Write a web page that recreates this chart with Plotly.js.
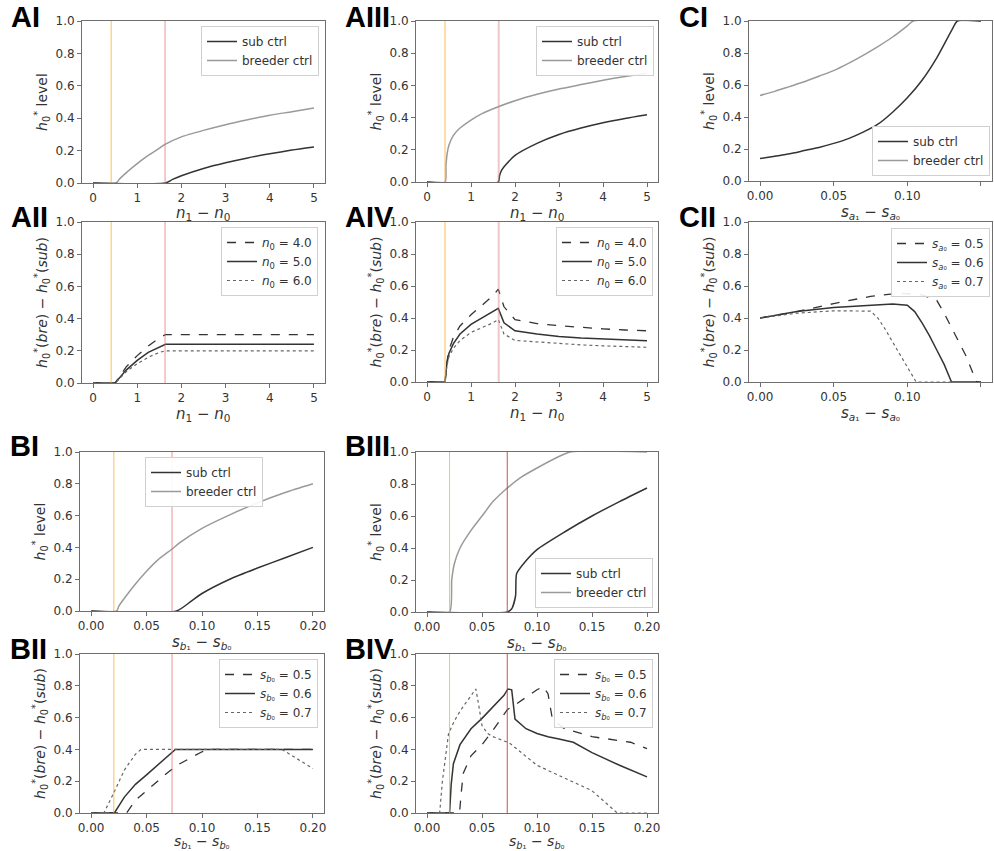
<!DOCTYPE html>
<html>
<head>
<meta charset="utf-8">
<script src="https://cdn.plot.ly/plotly-3.0.1.min.js"></script>
<style>html,body{margin:0;padding:0;background:#fff;}#chart{width:994px;height:851px;}</style>
</head>
<body>
<div id="chart"></div>
<script>
// ---------------- DATA ----------------
// thresholds (vertical reference lines)
const aThresh = [0.41, 1.63];
const bThresh = [0.0205, 0.073];

// AI
const AI_sub_x = [0, 1.64, 1.8, 2.0, 2.5, 3.0, 3.5, 4.0, 4.5, 5.0];
const AI_sub_y = [0, 0, 0.022, 0.045, 0.09, 0.125, 0.155, 0.18, 0.203, 0.222];
const AI_bre_x = [0, 0.52, 0.6, 0.8, 1.0, 1.25, 1.5, 1.64, 2.0, 2.5, 3.0, 3.5, 4.0, 4.5, 5.0];
const AI_bre_y = [0, 0, 0.025, 0.075, 0.12, 0.17, 0.215, 0.24, 0.285, 0.325, 0.36, 0.39, 0.418, 0.44, 0.463];

// AII
const AII_x = [0, 0.5, 0.75, 1.0, 1.25, 1.5, 1.64, 5.0];
const AII_n4 = [0, 0, 0.1, 0.17, 0.23, 0.28, 0.30, 0.30];
const AII_n5 = [0, 0, 0.08, 0.14, 0.19, 0.225, 0.24, 0.24];
const AII_n6 = [0, 0, 0.07, 0.12, 0.16, 0.19, 0.20, 0.20];

// AIII
const AIII_sub_x = [0, 1.62, 1.65, 1.7, 1.8, 2.0, 2.5, 3.0, 3.5, 4.0, 4.5, 5.0];
const AIII_sub_y = [0, 0, 0.04, 0.075, 0.11, 0.165, 0.24, 0.295, 0.335, 0.368, 0.395, 0.418];
const AIII_bre_x = [0, 0.41, 0.43, 0.46, 0.5, 0.6, 0.75, 1.0, 1.25, 1.62, 2.0, 2.5, 3.0, 3.5, 4.0, 4.5, 5.0];
const AIII_bre_y = [0, 0, 0.1, 0.18, 0.23, 0.29, 0.335, 0.385, 0.425, 0.467, 0.505, 0.545, 0.578, 0.605, 0.632, 0.655, 0.675];

// AIV
const AIV_x = [0, 0.41, 0.45, 0.5, 0.6, 0.75, 1.0, 1.25, 1.5, 1.62, 1.75, 2.0, 2.5, 3.0, 3.5, 4.0, 4.5, 5.0];
const AIV_n4 = [0, 0, 0.12, 0.2, 0.28, 0.35, 0.42, 0.48, 0.54, 0.58, 0.47, 0.39, 0.365, 0.352, 0.34, 0.332, 0.325, 0.32];
const AIV_n5 = [0, 0, 0.11, 0.18, 0.24, 0.30, 0.36, 0.40, 0.44, 0.46, 0.37, 0.32, 0.30, 0.285, 0.275, 0.268, 0.262, 0.258];
const AIV_n6 = [0, 0, 0.1, 0.16, 0.21, 0.26, 0.31, 0.34, 0.37, 0.39, 0.30, 0.26, 0.25, 0.24, 0.232, 0.226, 0.22, 0.217];

// CI
const CI_sub_x = [0, 0.01, 0.02, 0.03, 0.04, 0.05, 0.06, 0.07, 0.08, 0.09, 0.1, 0.11, 0.12, 0.13, 0.134, 0.15];
const CI_sub_y = [0.14, 0.155, 0.17, 0.19, 0.21, 0.235, 0.265, 0.305, 0.355, 0.43, 0.52, 0.63, 0.77, 0.94, 1.0, 1.0];
const CI_bre_x = [0, 0.01, 0.02, 0.03, 0.04, 0.05, 0.06, 0.07, 0.08, 0.09, 0.1, 0.104, 0.15];
const CI_bre_y = [0.535, 0.56, 0.59, 0.62, 0.655, 0.69, 0.735, 0.785, 0.84, 0.9, 0.97, 1.0, 1.0];

// CII
const CII_a5_x = [0, 0.025, 0.05, 0.075, 0.095, 0.11, 0.12, 0.125, 0.13, 0.135, 0.14, 0.147, 0.15];
const CII_a5_y = [0.40, 0.44, 0.49, 0.535, 0.555, 0.545, 0.51, 0.43, 0.34, 0.25, 0.16, 0.0, 0.0];
const CII_a6_x = [0, 0.025, 0.05, 0.075, 0.09, 0.1, 0.105, 0.11, 0.115, 0.12, 0.125, 0.13, 0.15];
const CII_a6_y = [0.40, 0.44, 0.465, 0.48, 0.487, 0.48, 0.44, 0.37, 0.29, 0.2, 0.11, 0.0, 0.0];
const CII_a7_x = [0, 0.025, 0.05, 0.075, 0.08, 0.085, 0.09, 0.095, 0.1, 0.106, 0.15];
const CII_a7_y = [0.40, 0.43, 0.445, 0.443, 0.40, 0.33, 0.25, 0.17, 0.09, 0.0, 0.0];

// BI
const BI_sub_x = [0, 0.077, 0.09, 0.1, 0.125, 0.15, 0.175, 0.2];
const BI_sub_y = [0, 0, 0.06, 0.11, 0.2, 0.27, 0.335, 0.40];
const BI_bre_x = [0, 0.023, 0.025, 0.03, 0.04, 0.05, 0.06, 0.073, 0.08, 0.1, 0.125, 0.15, 0.175, 0.2];
const BI_bre_y = [0, 0, 0.03, 0.08, 0.17, 0.25, 0.32, 0.39, 0.43, 0.52, 0.605, 0.68, 0.745, 0.80];

// BII
const BII_b5_x = [0, 0.032, 0.04, 0.05, 0.06, 0.07, 0.08, 0.09, 0.1, 0.107, 0.2];
const BII_b5_y = [0, 0, 0.08, 0.14, 0.2, 0.26, 0.31, 0.35, 0.385, 0.40, 0.40];
const BII_b6_x = [0, 0.021, 0.03, 0.04, 0.05, 0.06, 0.07, 0.076, 0.2];
const BII_b6_y = [0, 0, 0.1, 0.18, 0.24, 0.3, 0.36, 0.40, 0.40];
const BII_b7_x = [0, 0.0115, 0.02, 0.03, 0.04, 0.045, 0.172, 0.2];
const BII_b7_y = [0, 0, 0.12, 0.27, 0.37, 0.40, 0.40, 0.28];

// BIII
const BIII_sub_x = [0, 0.073, 0.077, 0.0805, 0.0815, 0.09, 0.1, 0.125, 0.15, 0.175, 0.2];
const BIII_sub_y = [0, 0, 0.02, 0.1, 0.24, 0.32, 0.39, 0.5, 0.6, 0.69, 0.775];
const BIII_bre_x = [0, 0.0205, 0.0225, 0.0248, 0.03, 0.04, 0.05, 0.06, 0.073, 0.085, 0.1, 0.115, 0.13, 0.2];
const BIII_bre_y = [0, 0, 0.2, 0.3, 0.4, 0.51, 0.6, 0.69, 0.775, 0.84, 0.9, 0.955, 1.0, 1.0];

// BIV
const BIV_b5_x = [0, 0.0296, 0.031, 0.033, 0.04, 0.05, 0.06, 0.073, 0.08, 0.09, 0.1, 0.1057, 0.11, 0.114, 0.125, 0.15, 0.175, 0.185, 0.2];
const BIV_b5_y = [0, 0, 0.12, 0.25, 0.36, 0.43, 0.52, 0.65, 0.68, 0.73, 0.775, 0.795, 0.75, 0.59, 0.53, 0.48, 0.455, 0.445, 0.405];
const BIV_b6_x = [0, 0.0205, 0.022, 0.024, 0.03, 0.04, 0.05, 0.06, 0.07, 0.0735, 0.077, 0.08, 0.09, 0.1, 0.11, 0.12, 0.133, 0.15, 0.175, 0.2];
const BIV_b6_y = [0, 0, 0.18, 0.31, 0.43, 0.53, 0.595, 0.67, 0.74, 0.78, 0.775, 0.59, 0.53, 0.5, 0.48, 0.465, 0.445, 0.38, 0.3, 0.227];
const BIV_b7_x = [0, 0.0115, 0.014, 0.017, 0.0196, 0.025, 0.03, 0.035, 0.04, 0.0444, 0.047, 0.05, 0.055, 0.06, 0.075, 0.1, 0.125, 0.15, 0.173, 0.2];
const BIV_b7_y = [0, 0, 0.2, 0.38, 0.5, 0.58, 0.64, 0.69, 0.74, 0.78, 0.68, 0.55, 0.5, 0.48, 0.44, 0.3, 0.22, 0.14, 0.0, 0.0];

// labels
const ctrlNames = ["sub ctrl", "breeder ctrl"];
const nLabels = ["<i>n</i><sub>0</sub> = 4.0", "<i>n</i><sub>0</sub> = 5.0", "<i>n</i><sub>0</sub> = 6.0"];
const saLabels = ["<i>s</i><sub><i>a</i>₀</sub> = 0.5", "<i>s</i><sub><i>a</i>₀</sub> = 0.6", "<i>s</i><sub><i>a</i>₀</sub> = 0.7"];
const sbLabels = ["<i>s</i><sub><i>b</i>₀</sub> = 0.5", "<i>s</i><sub><i>b</i>₀</sub> = 0.6", "<i>s</i><sub><i>b</i>₀</sub> = 0.7"];
const panelLabels = ["AI", "AII", "AIII", "AIV", "CI", "CII", "BI", "BII", "BIII", "BIV"];
const xTitleA = "<i>n</i><sub>1</sub> − <i>n</i><sub>0</sub>";
const xTitleB = "<i>s</i><sub><i>b</i>₁</sub> − <i>s</i><sub><i>b</i>₀</sub>";
const xTitleC = "<i>s</i><sub><i>a</i>₁</sub> − <i>s</i><sub><i>a</i>₀</sub>";
const yTitleLevel = "<i>h</i><sub>0</sub><sup>*</sup> level";
const yTitleDiff = "<i>h</i><sub>0</sub><sup>*</sup>(<i>bre</i>) − <i>h</i><sub>0</sub><sup>*</sup>(<i>sub</i>)";

// ---------------- LAYOUT ----------------
const W = 994, H = 851;
const FONT = "DejaVu Sans, sans-serif";
const SUB = "#333333", BRE = "#9a9a9a", AX = "#6f6f6f";

// panel boxes in pixels: [left, right, top, bottom]
const panels = [
  {box:[82,325,21,183], kind:'A', ytitle:yTitleLevel, lab:[9,17]},
  {box:[82,325,222,383], kind:'A', ytitle:yTitleDiff, lab:[9,217]},
  {box:[416,658,21,182], kind:'A', ytitle:yTitleLevel, lab:[343,17]},
  {box:[416,658,222,382], kind:'A', ytitle:yTitleDiff, lab:[343,217]},
  {box:[749,992,21,181], kind:'C', ytitle:yTitleLevel, lab:[677,17]},
  {box:[749,992,222,382], kind:'C', ytitle:yTitleDiff, lab:[677,217]},
  {box:[80,324,452,611], kind:'B', ytitle:yTitleLevel, lab:[8,446]},
  {box:[80,324,654,813], kind:'B', ytitle:yTitleDiff, lab:[8,649]},
  {box:[416,658,452,612], kind:'B', ytitle:yTitleLevel, lab:[343,446]},
  {box:[416,658,654,813], kind:'B', ytitle:yTitleDiff, lab:[343,649]}
];
const kindCfg = {
  A:{range:[-0.25,5.25], dtick:1, fmt:'d', title:xTitleA},
  B:{range:[-0.01,0.21], dtick:0.05, fmt:'.2f', title:xTitleB},
  C:{range:[-0.0075,0.1575], dtick:0.05, fmt:'.2f', title:xTitleC}
};
// legend positions [x px, y px, xanchor, yanchor]
const legPos = [
  [319,26,'right','top'], [318,227,'right','top'],
  [654,26,'right','top'], [653,227,'right','top'],
  [990,176,'right','bottom'], [990,228,'right','top'],
  [204,457,'center','top'], [318,659,'right','top'],
  [653,608,'right','bottom'], [653,659,'right','top']
];

const layout = {
  width:W, height:H, margin:{l:0,r:0,t:0,b:0},
  paper_bgcolor:'#fff', plot_bgcolor:'#fff',
  font:{family:FONT, color:'#333', size:12},
  showlegend:true, shapes:[], annotations:[]
};

panels.forEach((p,i)=>{
  const n = i+1, s = n===1?'':String(n);
  const k = kindCfg[p.kind];
  const [l,r,t,b] = p.box;
  layout['xaxis'+s] = {
    domain:[l/W, r/W], anchor:'y'+s, range:k.range, dtick:k.dtick, tick0:0, tickformat:k.fmt,
    showgrid:false, zeroline:false, showline:true, mirror:true, linecolor:AX, linewidth:1,
    ticks:'outside', ticklen:4, tickcolor:AX, tickfont:{size:12, color:'#333'}, automargin:false
  };
  layout['yaxis'+s] = {
    domain:[1-b/H, 1-t/H], anchor:'x'+s, range:[0,1], dtick:0.2, tick0:0, tickformat:'.1f',
    showgrid:false, zeroline:false, showline:true, mirror:true, linecolor:AX, linewidth:1,
    ticks:'outside', ticklen:4, tickcolor:AX, tickfont:{size:12, color:'#333'},
    title:{text:p.ytitle, font:{size:14, color:'#333'}, standoff:4}, automargin:false
  };
  // x-axis title as annotation below tick labels
  const bottomRow = b > 800;
  layout.annotations.push({
    xref:'paper', yref:'paper', x:(l+r)/2/W, y:1-(b+(bottomRow?29:31))/H, xanchor:'center', yanchor:'middle',
    text:k.title, showarrow:false, font:{family:FONT, size:bottomRow?14:15, color:'#333'}
  });
  const lp = legPos[i];
  layout['legend'+s] = {
    x:lp[0]/W, y:1-lp[1]/H, xanchor:lp[2], yanchor:lp[3], xref:'paper', yref:'paper',
    bgcolor:'rgba(255,255,255,0.9)', bordercolor:'#d0d0d0', borderwidth:1,
    font:{size:12, color:'#333'}, traceorder:'normal', itemwidth:30, tracegroupgap:0
  };
  layout.annotations.push({
    xref:'paper', yref:'paper', x:p.lab[0]/W, y:1-p.lab[1]/H, xanchor:'left', yanchor:'middle',
    text:'<b>'+panelLabels[i]+'</b>', showarrow:false,
    font:{family:'Liberation Sans, Arial, sans-serif', size:29, color:'#000'}
  });
  // vertical threshold lines (not in CI/CII)
  if (p.kind !== 'C') {
    const th = p.kind==='A' ? aThresh : bThresh;
    const strong = (i===8 || i===9);
    const wide = (i===2 || i===3);
    layout.shapes.push({type:'line', xref:'x'+s, yref:'y'+s+' domain', x0:th[0], x1:th[0], y0:0, y1:1,
      line:{color: wide?'rgba(255,180,60,0.45)':'rgba(255,170,30,0.75)', width: wide?2:1}});
    layout.shapes.push({type:'line', xref:'x'+s, yref:'y'+s+' domain', x0:th[1], x1:th[1], y0:0, y1:1,
      line:{color: strong?'rgba(200,60,60,0.75)':(wide?'rgba(220,130,130,0.45)':'rgba(225,110,110,0.6)'), width: wide?2:1.2}});
  }
});

// ---------------- TRACES ----------------
const traces = [];
function add(i, x, y, name, color, dash, rank, width, smooth){
  const n=i+1, s=n===1?'':String(n);
  traces.push({x, y, name, type:'scatter', mode:'lines', xaxis:'x'+s, yaxis:'y'+s, legend:'legend'+s,
    legendrank:rank, line:{color, dash:dash||'solid', width:width||1.5,
      shape: smooth?'spline':'linear', smoothing: smooth?0.6:undefined}, hoverinfo:'skip'});
}
function ctrl(i, sx, sy, bx, by){
  add(i, bx, by, ctrlNames[1], BRE, 'solid', 2, 1.5, true);
  add(i, sx, sy, ctrlNames[0], SUB, 'solid', 1, 1.5, true);
}
function diff(i, labels, x1,y1, x2,y2, x3,y3){
  add(i, x1, y1, labels[0], '#333', 'dash', 1, 1.3);
  add(i, x2, y2, labels[1], '#333', 'solid', 2, 1.5);
  add(i, x3, y3, labels[2], '#666', 'dot', 3, 1.2);
}
ctrl(0, AI_sub_x, AI_sub_y, AI_bre_x, AI_bre_y);
diff(1, nLabels, AII_x, AII_n4, AII_x, AII_n5, AII_x, AII_n6);
ctrl(2, AIII_sub_x, AIII_sub_y, AIII_bre_x, AIII_bre_y);
diff(3, nLabels, AIV_x, AIV_n4, AIV_x, AIV_n5, AIV_x, AIV_n6);
ctrl(4, CI_sub_x, CI_sub_y, CI_bre_x, CI_bre_y);
diff(5, saLabels, CII_a5_x, CII_a5_y, CII_a6_x, CII_a6_y, CII_a7_x, CII_a7_y);
ctrl(6, BI_sub_x, BI_sub_y, BI_bre_x, BI_bre_y);
diff(7, sbLabels, BII_b5_x, BII_b5_y, BII_b6_x, BII_b6_y, BII_b7_x, BII_b7_y);
ctrl(8, BIII_sub_x, BIII_sub_y, BIII_bre_x, BIII_bre_y);
diff(9, sbLabels, BIV_b5_x, BIV_b5_y, BIV_b6_x, BIV_b6_y, BIV_b7_x, BIV_b7_y);

Plotly.newPlot('chart', traces, layout, {staticPlot:true, displayModeBar:false});
</script>
</body>
</html>
